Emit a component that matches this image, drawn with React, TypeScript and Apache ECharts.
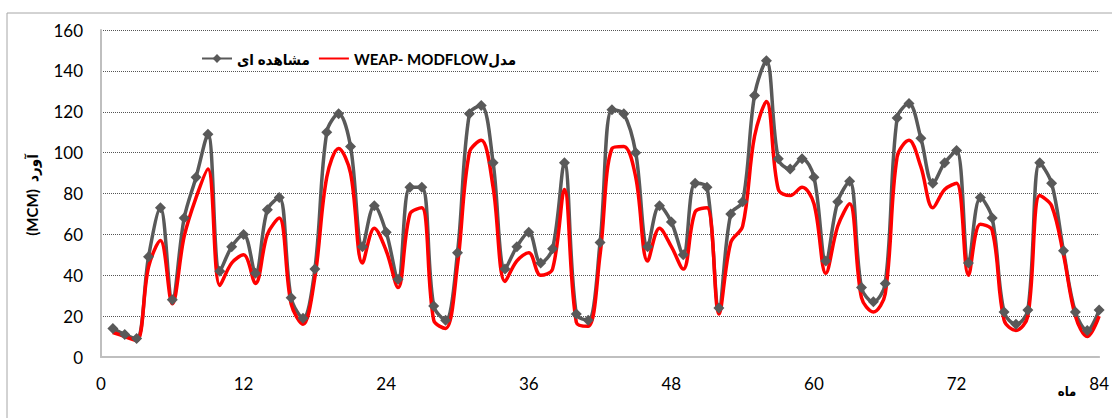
import React, { useEffect, useRef } from "react";
import * as echarts from "echarts";

const months = [
  1, 2, 3, 4, 5, 6, 7, 8, 9, 10, 11, 12, 13, 14, 15, 16, 17, 18, 19, 20, 21,
  22, 23, 24, 25, 26, 27, 28, 29, 30, 31, 32, 33, 34, 35, 36, 37, 38, 39, 40,
  41, 42, 43, 44, 45, 46, 47, 48, 49, 50, 51, 52, 53, 54, 55, 56, 57, 58, 59,
  60, 61, 62, 63, 64, 65, 66, 67, 68, 69, 70, 71, 72, 73, 74, 75, 76, 77, 78,
  79, 80, 81, 82, 83, 84,
];

const observed = [
  14, 11, 9, 49, 73, 28, 68, 88, 109, 42, 54, 60, 41, 72, 78, 29, 19, 43, 110,
  119, 103, 54, 74, 61, 38, 83, 83, 25, 18, 51, 119, 123, 95, 43, 54, 61, 46,
  53, 95, 21, 18, 56, 121, 119, 100, 54, 74, 66, 50, 85, 83, 24, 70, 76, 128,
  145, 97, 92, 97, 88, 47, 76, 86, 34, 27, 36, 117, 124, 107, 85, 95, 101, 46,
  78, 68, 22, 16, 23, 95, 85, 52, 22, 13, 23,
];

const model = [
  12, 10, 8, 44, 57, 26, 59, 78, 92, 35, 46, 50, 36, 60, 68, 26, 16, 39, 88,
  102, 90, 46, 63, 52, 34, 70, 73, 18, 14, 45, 100, 106, 83, 37, 47, 51, 40,
  43, 82, 17, 15, 50, 102, 103, 88, 47, 63, 54, 43, 71, 73, 21, 56, 64, 108,
  125, 82, 79, 83, 75, 41, 64, 75, 29, 22, 31, 98, 106, 93, 73, 82, 85, 40,
  65, 62, 18, 13, 20, 79, 74, 50, 20, 10, 20,
];

const seriesNames = ["مشاهده ای", "WEAP- MODFLOWمدل"];
const yTitle = "(MCM)  آورد";
const xTitle = "ماه";

const FONT = "Lato, 'DejaVu Sans Condensed', 'DejaVu Sans', sans-serif";

export default function App() {
  const ref = useRef<HTMLDivElement>(null);

  useEffect(() => {
    if (!ref.current) return;
    const chart = echarts.init(ref.current, null, { renderer: "svg" });
    const obsData = months.map((m, i) => [m, observed[i]]);
    const modData = months.map((m, i) => [m, model[i]]);
    chart.setOption({
      animation: false,
      backgroundColor: "#ffffff",
      textStyle: { fontFamily: FONT },
      grid: { left: 101, right: 12, top: 30, bottom: 61 },
      legend: {
        left: 196,
        top: 46,
        itemWidth: 30,
        itemHeight: 11,
        itemGap: 8,
        textStyle: {
          fontFamily: FONT,
          fontSize: 15,
          fontWeight: "bold",
          color: "#000",
        },
        data: [
          seriesNames[0],
          { name: seriesNames[1], itemStyle: { opacity: 0 } },
        ],
      },
      xAxis: {
        type: "value",
        min: 0,
        max: 84,
        interval: 12,
        axisLine: { show: true, lineStyle: { color: "#bfbfbf", width: 2 } },
        axisTick: { show: false },
        splitLine: { show: false },
        axisLabel: {
          margin: 18,
          fontFamily: FONT,
          fontSize: 17,
          color: "#000",
        },
      },
      yAxis: {
        type: "value",
        min: 0,
        max: 160,
        interval: 20,
        axisLine: { show: true, lineStyle: { color: "#bfbfbf", width: 2 } },
        axisTick: { show: false },
        splitLine: {
          show: true,
          lineStyle: { color: "#555", width: 1, type: [1, 1] },
        },
        axisLabel: {
          margin: 18,
          fontFamily: FONT,
          fontSize: 17,
          color: "#000",
        },
      },
      graphic: [
        {
          type: "rect",
          z: -10,
          shape: { x: 7, y: 13, width: 1200, height: 500 },
          style: { fill: "none", stroke: "#a6a6a6", lineWidth: 1 },
        },
        {
          type: "text",
          x: 32,
          y: 195,
          rotation: Math.PI / 2,
          style: {
            text: yTitle,
            fontFamily: FONT,
            fontSize: 15,
            fontWeight: "bold",
            fill: "#000",
            align: "center",
            verticalAlign: "middle",
          },
        },
        {
          type: "text",
          x: 1067,
          y: 391,
          style: {
            text: xTitle,
            fontFamily: FONT,
            fontSize: 13,
            fontWeight: "bold",
            fill: "#000",
            align: "center",
            verticalAlign: "middle",
          },
        },
      ],
      series: [
        {
          name: seriesNames[0],
          type: "line",
          data: obsData,
          smooth: 0.35,
          symbol: "diamond",
          symbolSize: 11,
          lineStyle: { color: "#595959", width: 3.5 },
          itemStyle: { color: "#595959" },
        },
        {
          name: seriesNames[1],
          type: "line",
          data: modData,
          smooth: 0.35,
          symbol: "none",
          lineStyle: { color: "#ff0000", width: 3.5 },
          itemStyle: { color: "#ff0000" },
        },
      ],
    });
    return () => chart.dispose();
  }, []);

  return (
    <div
      ref={ref}
      style={{ position: "absolute", left: 0, top: 0, width: 1112, height: 418 }}
    />
  );
}
